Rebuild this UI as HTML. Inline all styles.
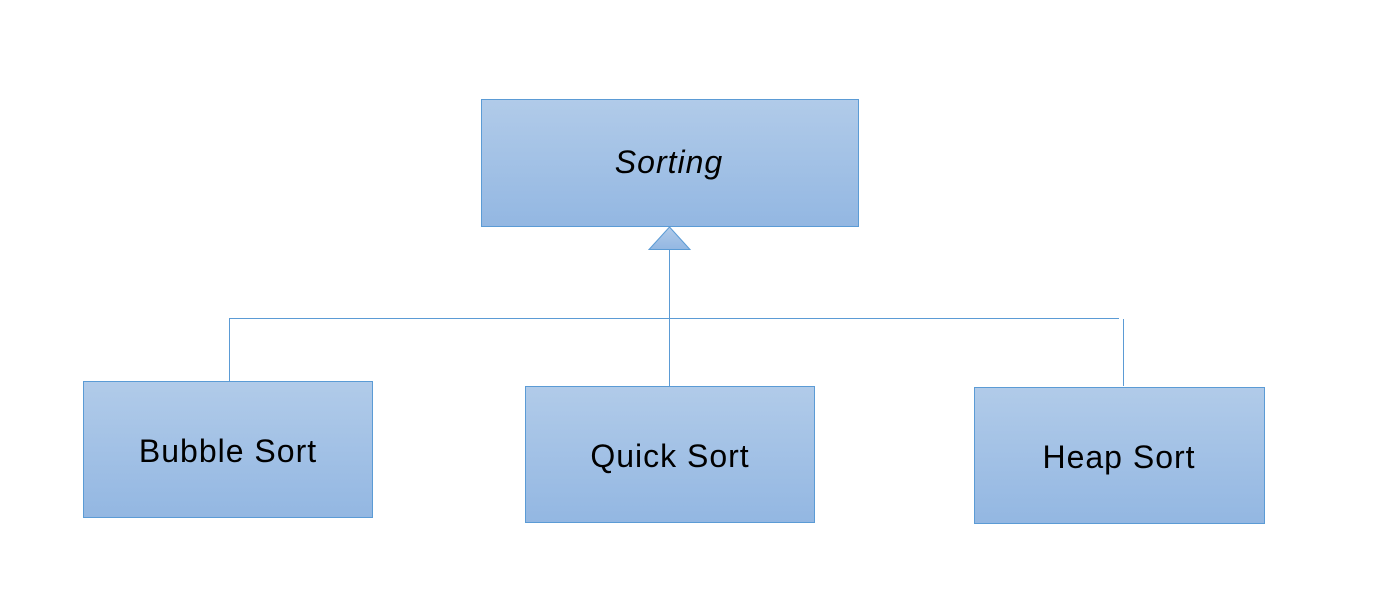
<!DOCTYPE html>
<html><head><style>
body{margin:0;background:#fff;width:1397px;height:587px;overflow:hidden}
</style></head><body>
<svg width="1397" height="587" xmlns="http://www.w3.org/2000/svg" font-family="Liberation Sans, sans-serif">
<defs><linearGradient id="g" x1="0" y1="0" x2="0" y2="1"><stop offset="0" stop-color="#b1cbe9"/><stop offset="1" stop-color="#93b7e2"/></linearGradient></defs>
<g stroke="#5b9bd5" stroke-width="1" fill="none">
<path d="M669.5 249V386M229.5 318.5H1119M1123.5 319V386M229.5 318V381"/>
</g>
<g fill="url(#g)" stroke="#5b9bd5" stroke-width="1">
<rect x="481.5" y="99.5" width="377" height="127"/>
<polygon points="669.5,227 690,249.5 649,249.5"/>
<rect x="83.5" y="381.5" width="289" height="136"/>
<rect x="525.5" y="386.5" width="289" height="136"/>
<rect x="974.5" y="387.5" width="290" height="136"/>
</g>
<g font-size="32" text-anchor="middle" fill="#000" letter-spacing="1">
<text x="669" y="173" font-style="italic">Sorting</text>
<text x="228" y="462">Bubble Sort</text>
<text x="670" y="467">Quick Sort</text>
<text x="1119" y="468">Heap Sort</text>
</g>
</svg>
</body></html>
